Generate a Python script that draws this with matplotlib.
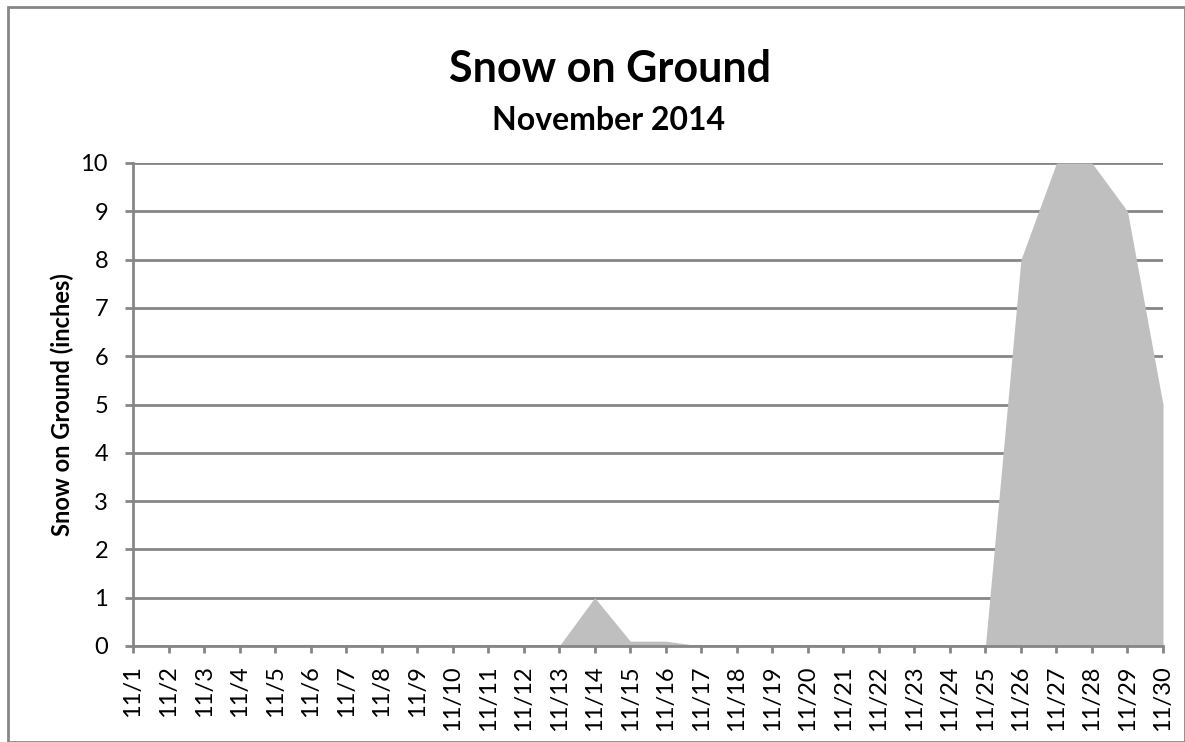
import matplotlib
matplotlib.use("Agg")
import matplotlib.pyplot as plt
from matplotlib.patches import Rectangle

days = [f"11/{d}" for d in range(1, 31)]
snow = [0, 0, 0, 0, 0, 0, 0, 0, 0, 0, 0, 0, 0, 1, 0.1, 0.1, 0, 0, 0, 0,
        0, 0, 0, 0, 0, 8, 10, 10, 9, 5]
yticks = list(range(0, 11))

plt.rcParams['font.family'] = ['Lato', 'DejaVu Sans']

fig = plt.figure(figsize=(11.85, 7.42), dpi=100)
W, H = 1185, 742
ax = fig.add_axes([133 / W, 1 - 646 / H, (1163 - 133) / W, (646 - 163) / H])

x = list(range(len(days)))
ax.fill_between(x, snow, 0, color='#BFBFBF', linewidth=0, zorder=2)

ax.set_xlim(0, len(days) - 1)
ax.set_ylim(0, 10)
ax.set_yticks(yticks)
ax.set_xticks(x)
ax.set_xticklabels(days, rotation=90, fontsize=17)
ax.tick_params(axis='y', labelsize=17, length=6, width=2, color='#868686', pad=12)
ax.tick_params(axis='x', length=5, width=2, color='#868686', pad=9)
ax.grid(axis='y', color='#868686', linewidth=2, zorder=1)
ax.set_axisbelow(True)
for s in ['top', 'right']:
    ax.spines[s].set_visible(False)
for s in ['left', 'bottom']:
    ax.spines[s].set_color('#868686')
    ax.spines[s].set_linewidth(2)
    ax.spines[s].set_zorder(3)

fig.text(62 / W, 1 - 405 / H, 'Snow on Ground (inches)', rotation=90,
         ha='center', va='center', fontsize=17, fontweight='bold')

fig.text(610 / W, 1 - 82 / H, 'Snow on Ground', ha='center', va='baseline',
         fontsize=31, fontweight='bold')
fig.text(609 / W, 1 - 130 / H, 'November 2014', ha='center', va='baseline',
         fontsize=23, fontweight='bold')

fig.patches.append(Rectangle((8 / W, 0), (1185 - 8) / W, 1 - 7 / H,
                             transform=fig.transFigure, fill=False,
                             edgecolor='#868686', linewidth=2))

fig.savefig('out.png', dpi=100)
